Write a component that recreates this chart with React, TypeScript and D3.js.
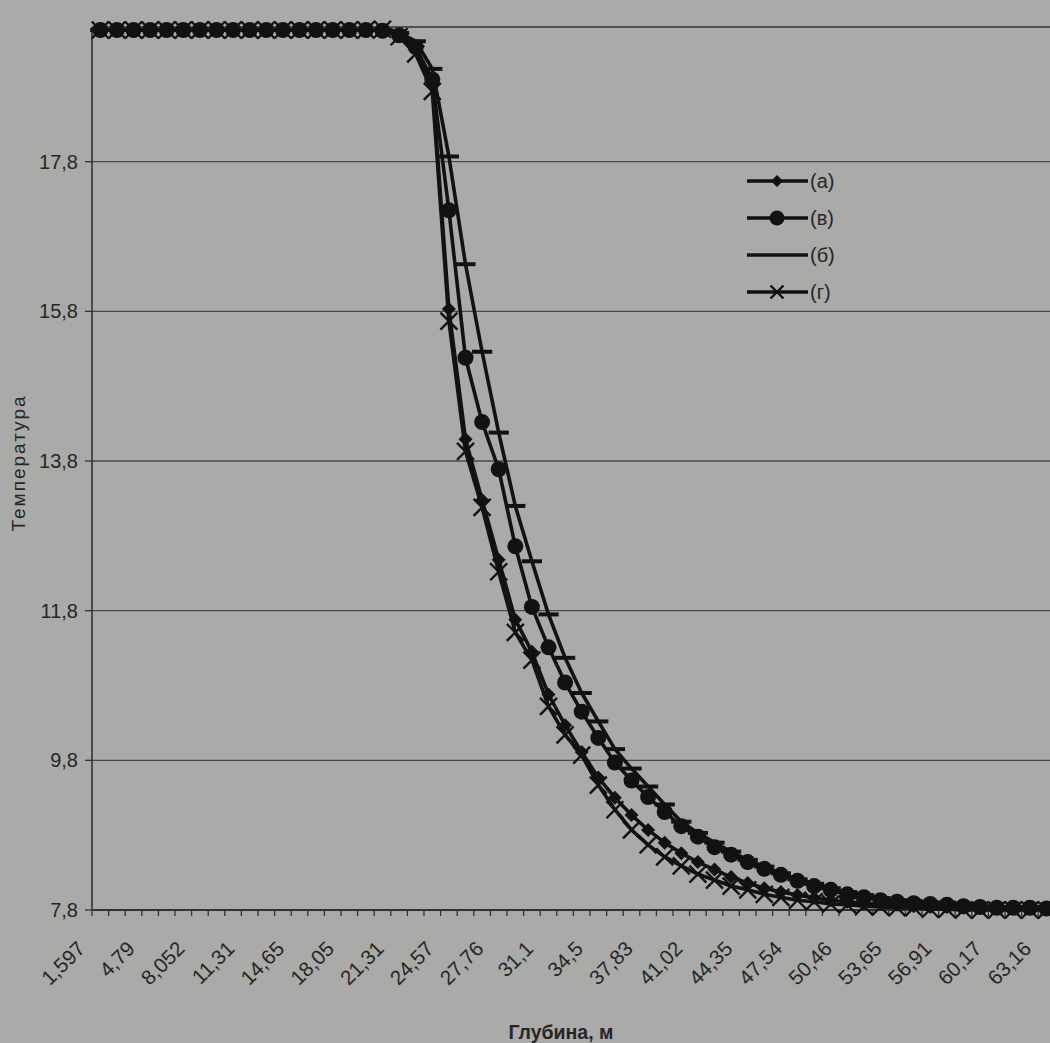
import React, { useEffect, useRef } from "react";
import * as d3 from "d3";

// depth tick labels (every 3rd category is labelled on the axis)
const tickLabels = ["1,597", "4,79", "8,052", "11,31", "14,65", "18,05", "21,31", "24,57", "27,76", "31,1",
  "34,5", "37,83", "41,02", "44,35", "47,54", "50,46", "53,65", "56,91", "60,17", "63,16"];
const labelStep = 3;
const yTicks = [7.8, 9.8, 11.8, 13.8, 15.8, 17.8];

const seriesA = [19.56, 19.56, 19.56, 19.56, 19.56, 19.56, 19.56, 19.56, 19.56, 19.56, 19.56, 19.56, 19.56, 19.56, 19.56, 19.56, 19.56,
  19.56, 19.50, 19.30, 18.84, 15.83, 14.09, 13.28, 12.48, 11.68, 11.25, 10.68, 10.27, 9.91, 9.57, 9.30, 9.07, 8.87, 8.70,
  8.56, 8.44, 8.34, 8.24, 8.16, 8.09, 8.04, 8.00, 7.96, 7.93, 7.91, 7.89, 7.88, 7.87, 7.85, 7.84, 7.84, 7.83, 7.83, 7.83,
  7.83, 7.82, 7.82, 7.82];
const seriesV = [19.56, 19.56, 19.56, 19.56, 19.56, 19.56, 19.56, 19.56, 19.56, 19.56, 19.56, 19.56, 19.56, 19.56, 19.56, 19.56, 19.56,
  19.55, 19.49, 19.33, 18.90, 17.15, 15.18, 14.32, 13.69, 12.66, 11.85, 11.31, 10.84, 10.45, 10.10, 9.77, 9.53, 9.31, 9.11,
  8.92, 8.78, 8.64, 8.54, 8.44, 8.35, 8.27, 8.19, 8.12, 8.07, 8.01, 7.97, 7.93, 7.91, 7.89, 7.88, 7.87, 7.85, 7.84, 7.83,
  7.83, 7.83, 7.82, 7.82];
const seriesB = [19.56, 19.56, 19.56, 19.56, 19.56, 19.56, 19.56, 19.56, 19.56, 19.56, 19.56, 19.56, 19.56, 19.56, 19.56, 19.56, 19.56,
  19.56, 19.52, 19.41, 19.04, 17.87, 16.43, 15.26, 14.18, 13.20, 12.46, 11.75, 11.17, 10.70, 10.32, 9.95, 9.69, 9.45, 9.21,
  8.98, 8.83, 8.70, 8.58, 8.47, 8.38, 8.29, 8.21, 8.15, 8.09, 8.04, 8.00, 7.96, 7.93, 7.91, 7.89, 7.88, 7.87, 7.85, 7.84,
  7.84, 7.84, 7.84, 7.84];
const seriesG = [19.56, 19.56, 19.56, 19.56, 19.56, 19.56, 19.56, 19.56, 19.56, 19.56, 19.56, 19.56, 19.56, 19.56, 19.56, 19.56, 19.56,
  19.57, 19.47, 19.24, 18.74, 15.67, 13.93, 13.18, 12.32, 11.51, 11.14, 10.52, 10.14, 9.87, 9.47, 9.14, 8.87, 8.67, 8.51,
  8.39, 8.28, 8.20, 8.12, 8.07, 8.01, 7.97, 7.93, 7.91, 7.88, 7.87, 7.85, 7.84, 7.83, 7.83, 7.81, 7.81, 7.80, 7.80, 7.80,
  7.80, 7.80, 7.80, 7.80];

const seriesNames = ["(а)", "(в)", "(б)", "(г)"];
const seriesMarks = ["diamond", "circle", "dash", "x"];

const W = 1050, H = 1043;
const margin = { left: 92, top: 27, bottom: 910 };
const catWidth = 16.6;
const ink = "#121212";
const textInk = "#262626";
const font = "'Liberation Sans', Arial, sans-serif";

function drawMarker(g: any, kind: string, x: number, y: number, s: number) {
  if (kind === "diamond") {
    g.append("path").attr("d", `M${x},${y - s}L${x + s},${y}L${x},${y + s}L${x - s},${y}Z`).attr("fill", ink);
  } else if (kind === "circle") {
    g.append("circle").attr("cx", x).attr("cy", y).attr("r", s).attr("fill", ink);
  } else if (kind === "dash") {
    g.append("line").attr("x1", x - s * 1.35).attr("x2", x + s * 1.35).attr("y1", y).attr("y2", y)
      .attr("stroke", ink).attr("stroke-width", 4);
  } else {
    g.append("path").attr("d", `M${x - s},${y - s}L${x + s},${y + s}M${x - s},${y + s}L${x + s},${y - s}`)
      .attr("stroke", ink).attr("stroke-width", 2.4);
  }
}

export default function App() {
  const ref = useRef<SVGSVGElement>(null);

  useEffect(() => {
    const svg = d3.select(ref.current);
    svg.selectAll("*").remove();
    const all = [seriesA, seriesV, seriesB, seriesG];
    const n = seriesA.length;

    const x = d3.scaleBand<number>().domain(d3.range(n)).range([margin.left, margin.left + n * catWidth]).padding(0);
    const y = d3.scaleLinear().domain([7.8, 19.6]).range([margin.bottom, margin.top]);
    const cx = (i: number) => (x(i) as number) + x.bandwidth() / 2;

    svg.append("rect").attr("width", W).attr("height", H).attr("fill", "#aaaaa8");

    // gridlines + y labels
    svg.selectAll(".grid").data(yTicks.slice(1)).join("line")
      .attr("x1", margin.left).attr("x2", W).attr("y1", d => y(d)).attr("y2", d => y(d))
      .attr("stroke", "#4a4a4a").attr("stroke-width", 1.3);
    svg.append("line").attr("x1", margin.left).attr("x2", W).attr("y1", margin.top).attr("y2", margin.top)
      .attr("stroke", "#333").attr("stroke-width", 1.6);
    svg.selectAll(".ytick").data(yTicks).join("line")
      .attr("x1", margin.left - 7).attr("x2", margin.left).attr("y1", d => y(d)).attr("y2", d => y(d))
      .attr("stroke", "#333").attr("stroke-width", 1.3);
    svg.selectAll(".ylab").data(yTicks).join("text")
      .attr("x", margin.left - 14).attr("y", d => y(d) + 7)
      .attr("text-anchor", "end").attr("font-family", font).attr("font-size", 20).attr("fill", textInk)
      .text(d => d3.format(".1f")(d).replace(".", ","));

    // axes
    svg.append("line").attr("x1", margin.left).attr("x2", margin.left).attr("y1", margin.top).attr("y2", margin.bottom)
      .attr("stroke", "#333").attr("stroke-width", 1.6);
    svg.append("line").attr("x1", margin.left).attr("x2", W).attr("y1", margin.bottom).attr("y2", margin.bottom)
      .attr("stroke", "#333").attr("stroke-width", 2);
    svg.selectAll(".xtick").data(d3.range(n + 1)).join("line")
      .attr("x1", d => margin.left + d * x.bandwidth()).attr("x2", d => margin.left + d * x.bandwidth())
      .attr("y1", margin.bottom).attr("y2", margin.bottom + 6)
      .attr("stroke", "#333").attr("stroke-width", 1.3);
    svg.selectAll(".xlab").data(tickLabels).join("text")
      .attr("transform", (d, k) => `translate(${cx(k * labelStep) - 14},${margin.bottom + 40}) rotate(-45)`)
      .attr("text-anchor", "end").attr("font-family", font).attr("font-size", 20.5).attr("fill", textInk)
      .text(d => d);

    svg.append("text").attr("x", 561).attr("y", 1039).attr("text-anchor", "middle")
      .attr("font-family", font).attr("font-size", 19.5).attr("font-weight", "bold").attr("fill", textInk)
      .text("Глубина, м");
    svg.append("text").attr("transform", "translate(25,463) rotate(-90)").attr("text-anchor", "middle")
      .attr("font-family", font).attr("font-size", 19).attr("letter-spacing", 2).attr("fill", textInk)
      .text("Температура");

    // series
    const line = d3.line<number>().x((d, i) => cx(i)).y(d => y(d));
    all.forEach((vals, k) => {
      const g = svg.append("g");
      g.append("path").datum(vals).attr("d", line).attr("fill", "none")
        .attr("stroke", ink).attr("stroke-width", 3.6).attr("stroke-linejoin", "round");
      const size = [7, 8, 7.5, 8.5][k];
      vals.forEach((v, i) => drawMarker(g, seriesMarks[k], cx(i), y(v), size));
    });

    // legend
    const lg = svg.append("g");
    seriesNames.forEach((name, k) => {
      const ly = 181 + k * 37;
      lg.append("line").attr("x1", 747).attr("x2", 808).attr("y1", ly).attr("y2", ly)
        .attr("stroke", ink).attr("stroke-width", 3.4);
      if (seriesMarks[k] !== "dash") drawMarker(lg, seriesMarks[k], 777, ly, [6, 7.5, 0, 6.5][k]);
      lg.append("text").attr("x", 810).attr("y", ly + 7).attr("font-family", font).attr("font-size", 20)
        .attr("fill", textInk).text(name);
    });
  }, []);

  return (
    <svg ref={ref} width={W} height={H} style={{ position: "absolute", left: 0, top: 0 }} />
  );
}
